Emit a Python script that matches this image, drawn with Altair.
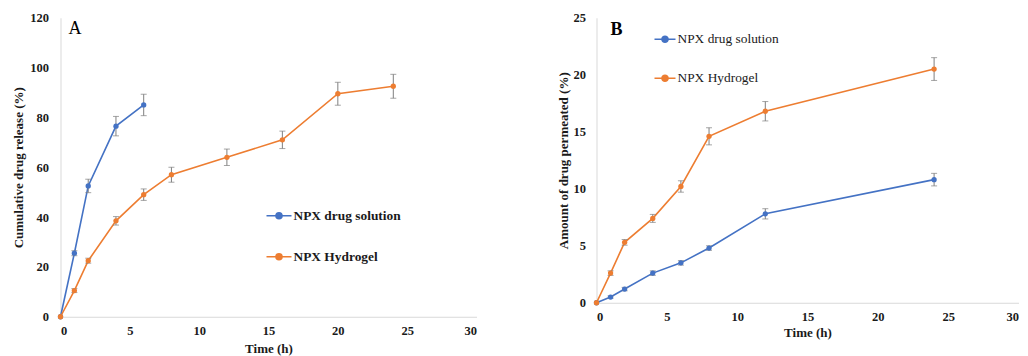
import altair as alt
import pandas as pd

# ---------------- data ----------------
series_names = ["NPX drug solution", "NPX Hydrogel"]
colors = ["#4472C4", "#ED7D31"]

# Panel A: cumulative drug release (%)
time_sol_A = [0, 1, 2, 4, 6]
rel_sol_A = [0, 25.5, 52.5, 76.5, 85.0]
err_sol_A = [0, 1.0, 2.7, 3.9, 4.3]

time_gel_A = [0, 1, 2, 4, 6, 8, 12, 16, 20, 24]
rel_gel_A = [0, 10.5, 22.5, 38.5, 49.0, 57.0, 64.0, 71.0, 89.5, 92.5]
err_gel_A = [0, 0.8, 1.0, 1.7, 2.3, 3.0, 3.3, 3.5, 4.6, 4.8]

# Panel B: amount of drug permeated (%)
time_B = [0, 1, 2, 4, 6, 8, 12, 24]
perm_sol_B = [0, 0.5, 1.2, 2.6, 3.5, 4.8, 7.8, 10.8]
err_sol_B = [0, 0.1, 0.15, 0.2, 0.2, 0.2, 0.45, 0.55]
perm_gel_B = [0, 2.6, 5.3, 7.4, 10.2, 14.6, 16.8, 20.5]
err_gel_B = [0, 0.2, 0.25, 0.35, 0.5, 0.75, 0.85, 1.0]

x_ticks = [0, 5, 10, 15, 20, 25, 30]
y_ticks_A = [0, 20, 40, 60, 80, 100, 120]
y_ticks_B = [0, 5, 10, 15, 20, 25]


def frame(series, t, v, e):
    return pd.DataFrame({"series": series, "t": t, "v": v, "e": e})


df_A = pd.concat([
    frame(series_names[0], time_sol_A, rel_sol_A, err_sol_A),
    frame(series_names[1], time_gel_A, rel_gel_A, err_gel_A),
])
df_B = pd.concat([
    frame(series_names[0], time_B, perm_sol_B, err_sol_B),
    frame(series_names[1], time_B, perm_gel_B, err_gel_B),
])

FONT = "Liberation Serif"
TXT = "#1a1a1a"


def legend_path(r):
    # a short line with a filled-looking dot in the middle
    p = "M-1,0L1,0"
    for k in (1.0, 0.6, 0.25):
        rr = r * k
        p += (f"M{-rr},0A{rr},{rr},0,1,0,{rr},0"
              f"A{rr},{rr},0,1,0,{-rr},0")
    return p


def panel(df, ytitle, ymax, yticks, w, h, letter, letter_bold, let_x,
          let_y, lx, ly, sym_size, dot_r, leg_bold, y_title_pad,
          y_label_pad, x_title_pad):
    base = alt.Chart(df)
    x = alt.X("t:Q", title="Time (h)",
              scale=alt.Scale(domain=[0, 30], nice=False),
              axis=alt.Axis(values=x_ticks, labelPadding=8,
                            titlePadding=x_title_pad))
    y_axis = alt.Axis(values=yticks, labelPadding=y_label_pad,
                      titlePadding=y_title_pad)
    yscale = alt.Scale(domain=[0, ymax], nice=False)
    cscale = alt.Scale(domain=series_names, range=colors)

    err = base.transform_calculate(
        lo="datum.v - datum.e", hi="datum.v + datum.e"
    ).transform_filter("datum.e > 0")
    rules = err.mark_rule(color="#7f7f7f", strokeWidth=1).encode(
        x="t:Q", y=alt.Y("lo:Q", scale=yscale), y2="hi:Q")
    cap_lo = err.mark_tick(color="#7f7f7f", orient="horizontal",
                           size=6, thickness=1).encode(
        x="t:Q", y=alt.Y("lo:Q", scale=yscale))
    cap_hi = err.mark_tick(color="#7f7f7f", orient="horizontal",
                           size=6, thickness=1).encode(
        x="t:Q", y=alt.Y("hi:Q", scale=yscale))

    line = base.mark_line(strokeWidth=1.6).encode(
        x=x,
        y=alt.Y("v:Q", title=ytitle, scale=yscale, axis=y_axis),
        color=alt.Color(
            "series:N", scale=cscale, sort=series_names,
            legend=alt.Legend(
                title=None, orient="none", legendX=lx, legendY=ly,
                symbolType=legend_path(dot_r), symbolSize=sym_size,
                symbolStrokeWidth=1.6, padding=0, rowPadding=21,
                labelOffset=1, labelFont=FONT, labelFontSize=13.4,
                labelFontWeight="bold" if leg_bold else "normal",
                labelColor=TXT)),
        detail="series:N")
    pts = base.mark_point(filled=True, size=28, opacity=1).encode(
        x="t:Q", y=alt.Y("v:Q", scale=yscale),
        color=alt.Color("series:N", scale=cscale, legend=None))

    lab = alt.Chart(pd.DataFrame({"lab": [letter]})).mark_text(
        font=FONT, fontSize=18,
        fontWeight="bold" if letter_bold else "normal",
        align="left", baseline="middle", color="#000000").encode(
        text="lab:N", x=alt.value(let_x), y=alt.value(let_y))

    return alt.layer(line, rules, cap_lo, cap_hi, pts, lab).properties(
        width=w, height=h)


pA = panel(df_A, "Cumulative drug release (%)", 120, y_ticks_A, 416, 299,
           "A", False, 8, 11, 205, 184.5, 625, 0.24, True, 4.75, 12, 5.5)
pB = panel(df_B, "Amount of drug permeated (%)", 25, y_ticks_B, 422, 285,
           "B", True, 14, 12, 57, 10, 441, 0.29, False, 3, 11, 3.25)

chart = alt.hconcat(pA, pB, spacing=80).resolve_scale(
    color="independent").resolve_legend(color="independent").configure(
    padding={"left": 3.5, "top": 3.75, "right": 0, "bottom": 0}
).configure_view(stroke=None).configure_axis(
    labelFont=FONT, labelFontSize=12.5, labelFontWeight="bold",
    labelColor=TXT, titleFont=FONT, titleFontSize=13,
    titleFontWeight="bold", titleColor=TXT, domainColor="#d9d9d9",
    domainWidth=1, ticks=False, grid=False)

chart.save("out.html", embed_options={"renderer": "svg", "actions": False})
